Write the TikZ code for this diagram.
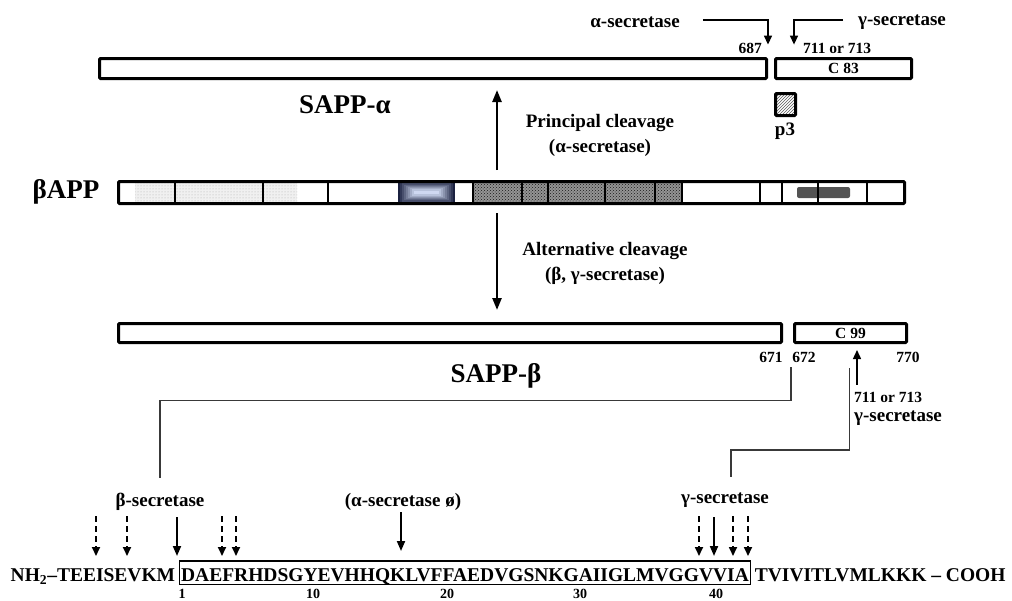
\documentclass[tikz,border=0pt]{standalone}
\usepackage{fontspec}
\setmainfont{Liberation Serif}
\usepackage{tikz}
\usetikzlibrary{arrows.meta, calc, patterns, positioning}

\definecolor{azuloscuro}{HTML}{1B2140}
\definecolor{azulclaro}{HTML}{D6E0F8}

\tikzset{
  barra/.style={draw, line width=3pt, rounded corners=1pt, inner sep=0pt},
  corte/.style={-{Triangle[length=12pt,width=9pt]}, line width=2.4pt},
  cortefino/.style={-{Triangle[length=9pt,width=8pt]}, line width=1.4pt},
  corteseq/.style={-{Triangle[length=10pt,width=8pt]}, line width=1.9pt},
  cortedash/.style={-{Triangle[length=9pt,width=8pt]}, line width=1.7pt,
    dash pattern=on 6pt off 4pt},
  enlace/.style={gray!45!black, line width=1.4pt},
  etiq/.style={font=\fontsize{19}{25}\selectfont\bfseries, inner sep=2pt},
  num/.style={font=\fontsize{15.5}{18}\selectfont\bfseries, inner sep=1pt},
  titulo/.style={font=\fontsize{27}{32}\selectfont\bfseries, inner sep=2pt},
  secuencia/.style={font=\fontsize{19.5}{24}\selectfont\bfseries,
    inner xsep=1.5pt, inner ysep=1pt, text height=19pt, text depth=2.5pt},
}

\begin{document}
\begin{tikzpicture}[x=1pt, y=-1pt]
    \useasboundingbox (0,0) rectangle (1012,600);

    % Productos de la via alfa
    \node[barra, minimum width=667pt, minimum height=20pt] (sappa) at (433,68.5) {};
    \node[barra, num, minimum width=136pt, minimum height=20pt] (c83) at (843.5,68.5) {C 83};
    \node[barra, pattern=north east lines, pattern color=gray!70!black,
        minimum width=20pt, minimum height=22pt] (p3box) at (785.5,104.5) {};
    \node[etiq] (p3) at (785,131) {p3};
    \node[titulo] (sappalab) at (345,105) {SAPP-α};

    % Sitios de corte arriba
    \node[num, anchor=east] (l687) at (763,48) {687};
    \node[num, anchor=west] (l711a) at (802,48) {711 or 713};
    \node[etiq] (asec) at (635,22) {α-secretase};
    \node[etiq, anchor=west] (gseca) at (856,22) {γ-secretase};
    \draw[cortefino] ([xshift=21pt, yshift=2pt]asec.east) -| ([xshift=5pt, yshift=-3pt]l687.north east);
    \draw[cortefino] ([xshift=-13pt, yshift=2pt]gseca.west) -| ([xshift=-8pt, yshift=-3pt]l711a.north west);

    % Precursor
    \node[titulo] (bapplab) at (66,192) {βAPP};
    \fill[gray!12] (135,181) rectangle (297,204);
    \fill[pattern=dots, pattern color=gray!65] (135,181) rectangle (297,204);
    \fill[black!42] (473,181) rectangle (682,204);
    \fill[pattern=crosshatch dots, pattern color=black!90] (473,181) rectangle (682,204);
    \foreach \i [evaluate=\i as \p using \i*12] in {0,...,8}{
        \fill[azulclaro!\p!azuloscuro] ({398+2*\i},{181+1.2*\i}) rectangle ({455-2*\i},{204-1.2*\i});
    }
    \fill[gray!65!black, rounded corners=2pt] (797,187) rectangle (850,198);
    \node[barra, minimum width=786pt, minimum height=22pt] (bapp) at (511.5,192.5) {};
    \foreach \xx in {175,263,328,473,522,548,605,655,682,760,782,818,867}{
        \draw[line width=2.6pt] (\xx,182) -- (\xx,203);
    }

    % Productos de la via beta
    \node[barra, minimum width=663pt, minimum height=19pt] (sappb) at (450,333) {};
    \node[barra, num, minimum width=112pt, minimum height=19pt] (c99) at (850.5,333) {C 99};
    \node[titulo] (sappblab) at (496,376) {SAPP-β};
    \node[num] (l671) at (771,357) {671};
    \node[num] (l672) at (804,357) {672};
    \node[num] (l770) at (908,357) {770};
    \node[num, anchor=west] (l711b) at (853,397) {711 or 713};
    \node[etiq, anchor=west] (gsecb) at (852,418) {γ-secretase};
    \coordinate (t711b) at ($(c99.south)+(6.5,6)$);
    \draw[cortefino] ($(l711b.north west -| t711b)+(0,-6)$) -- (t711b);

    % Flechas de corte
    \coordinate (eje) at (497,0);
    \draw[corte] ($(bapp.north -| eje)+(0,-10)$) -- ($(sappa.south -| eje)+(0,10)$);
    \node[etiq, align=center] (pcl) at (600,135.5) {Principal cleavage\\(α-secretase)};
    \draw[corte] ($(bapp.south -| eje)+(0,8)$) -- ($(sappb.north -| eje)+(0,-12)$);
    \node[etiq, align=center] (acl) at (605,263) {Alternative cleavage\\(β, γ-secretase)};

    % Secuencia del peptido
    \node[secuencia, draw, line width=1.6pt, anchor=base] (abeta) at (465,581)
        {DAEFRHDSGYEVHHQKLVFFAEDVGSNKGAIIGLMVGGVVIA};
    \node[secuencia, anchor=base east] (nterm) at ([xshift=-2pt]abeta.base west)
        {NH\textsubscript{2}–TEEISEVKM};
    \node[secuencia, anchor=base west] (cterm) at ([xshift=2pt]abeta.base east)
        {TVIVITLVMLKKK – COOH};
    \foreach \num/\xx in {1/182,10/313,20/447,30/580,40/716}{
        \node[num, font=\fontsize{14}{16}\selectfont\bfseries] (r\num) at (\xx,593.5) {\num};
    }

    % Secretasas sobre la secuencia
    \node[etiq] (bsec) at (160,502) {β-secretase};
    \node[etiq] (asec2) at (403,502) {(α-secretase ø)};
    \node[etiq] (gsecc) at (725,500) {γ-secretase};
    \foreach \xx in {96,127,222,236,699,733,748}{
        \draw[cortedash] (\xx,516) -- (\xx,556);
    }
    \foreach \xx in {177,714}{
        \draw[corteseq] (\xx,517) -- (\xx,556);
    }
    \draw[corteseq] (401,512) -- (401,551);

    % Enlaces
    \draw[enlace] ($(l672.south west)+(0,4)$) -- ++(0,33) -| ([yshift=13pt]bsec.north);
    \draw[enlace] ($(c99.south)+(-1,24)$) -- ++(0,82) -| ([xshift=6pt, yshift=13pt]gsecc.north);

\end{tikzpicture}
\end{document}
